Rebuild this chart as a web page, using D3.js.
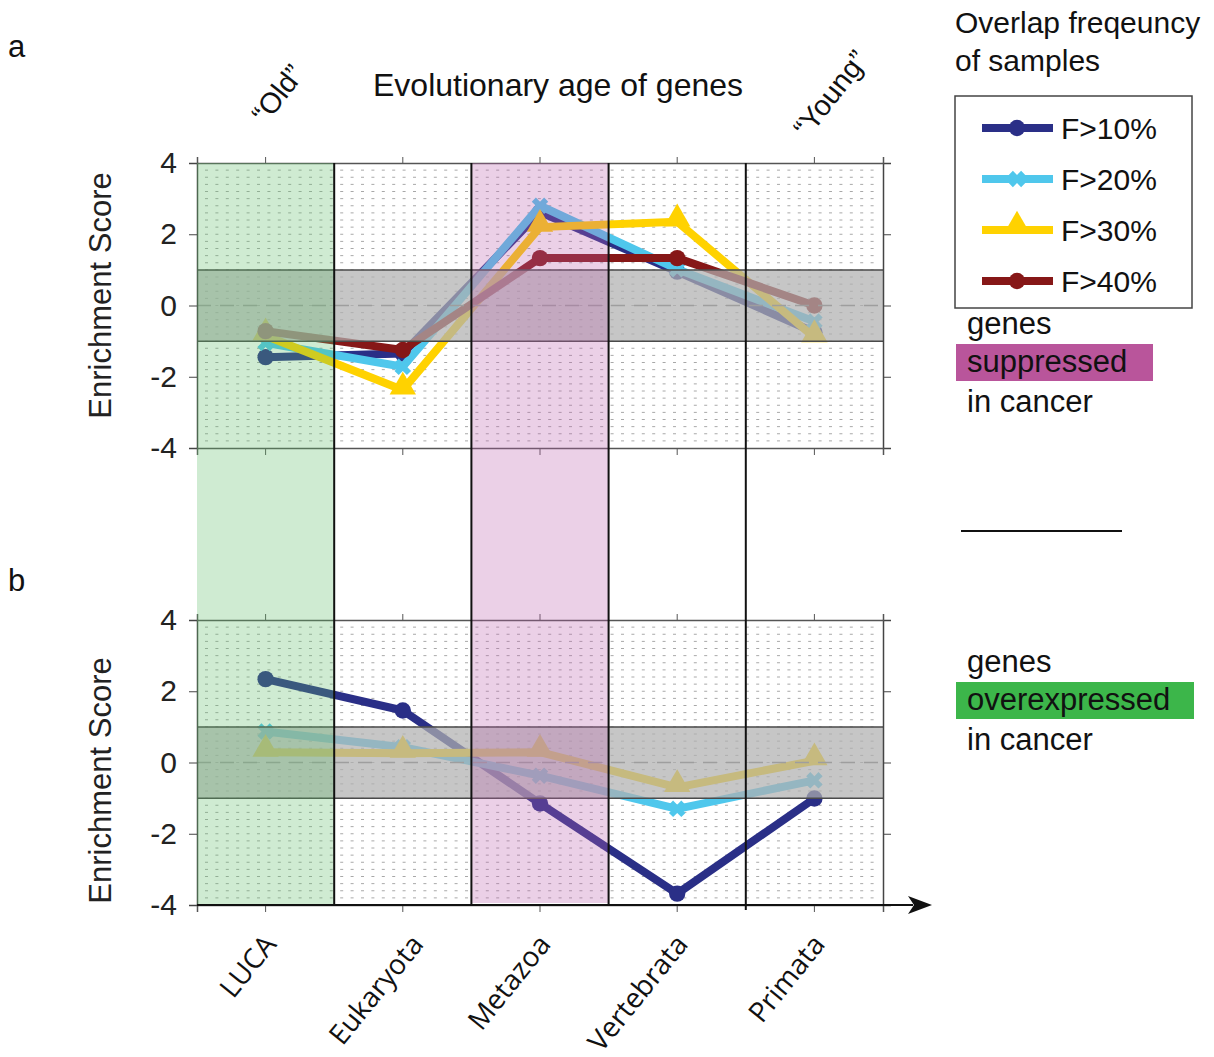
<!DOCTYPE html>
<html>
<head>
  <meta charset="utf-8">
  <title>Enrichment score by evolutionary age</title>
  <script src="https://cdn.jsdelivr.net/npm/d3@7/dist/d3.min.js"></script>
  <style>
    body { margin: 0; background: #fff; }
    svg { display: block; font-family: "Liberation Sans", Arial, sans-serif; }
  </style>
</head>
<body>
  <svg width="1214" height="1057"></svg>

  <script>
    // data
    const categories = ["LUCA", "Eukaryota", "Metazoa", "Vertebrata", "Primata"];
    const seriesNames = ["F>10%", "F>20%", "F>30%", "F>40%"];

    // panel a: genes suppressed in cancer
    const a10 = [-1.45, -1.35, 2.62, 0.95, -0.75];
    const a20 = [-1.05, -1.72, 2.8, 1.02, -0.45];
    const a30 = [-0.85, -2.37, 2.2, 2.35, -0.9];
    const a40 = [-0.72, -1.25, 1.33, 1.33, 0.0];

    // panel b: genes overexpressed in cancer
    const b10 = [2.34, 1.46, -1.15, -3.68, -1.01];
    const b20 = [0.87, 0.43, -0.37, -1.3, -0.5];
    const b30 = [0.29, 0.26, 0.29, -0.7, 0.05];

    const yTicks = [-4, -2, 0, 2, 4];

    const colors = ["#2a2f87", "#4fc7ec", "#ffd200", "#861717"];
    const markers = ["circle", "x", "triangle", "circle"];

    const svg = d3.select("svg");
    const font = "'Liberation Sans', Arial, sans-serif";

    const x = d3.scaleBand().domain(categories).range([197, 883]);
    const cx = c => x(c) + x.bandwidth() / 2;
    const yA = d3.scaleLinear().domain([-4, 4]).range([448, 163]);
    const yB = d3.scaleLinear().domain([-4, 4]).range([905, 620]);

    function markerPath(kind) {
      if (kind === "triangle") return d3.symbol().type(d3.symbolTriangle).size(300)();
      if (kind === "x") return d3.symbol().type(d3.symbolCross).size(170)();
      return d3.symbol().type(d3.symbolCircle).size(210)();
    }

    function drawPanel(y, series, label, labelY, titleShift) {
      const g = svg.append("g");
      const [x0, x1] = x.range();
      const [yb, yt] = y.range();

      // dotted grid
      g.append("g").selectAll("line")
        .data(d3.range(-3.8, 3.9, 0.2))
        .join("line")
        .attr("x1", x0 + 8).attr("x2", x1 - 2)
        .attr("y1", d => y(d)).attr("y2", d => y(d))
        .attr("stroke", "#a8a8a8")
        .attr("stroke-width", 1)
        .attr("stroke-dasharray", "3,7.4");

      // lines + markers
      series.forEach(s => {
        const pts = s.values.map((v, i) => [cx(categories[i]), y(v)]);
        g.append("path")
          .attr("d", d3.line()(pts))
          .attr("fill", "none")
          .attr("stroke", colors[s.k])
          .attr("stroke-width", 8)
          .attr("stroke-linejoin", "round");
        g.append("g").selectAll("path")
          .data(pts)
          .join("path")
          .attr("d", markerPath(markers[s.k]))
          .attr("transform", d => `translate(${d[0]},${d[1] - (markers[s.k] === "triangle" ? 3 : 0)})` + (markers[s.k] === "x" ? " rotate(45)" : ""))
          .attr("fill", colors[s.k]);
      });

      // zero line
      g.append("line")
        .attr("x1", x0).attr("x2", x1)
        .attr("y1", y(0)).attr("y2", y(0))
        .attr("stroke", "#707070")
        .attr("stroke-width", 1.3)
        .attr("stroke-dasharray", "14,9");

      // non-significant band
      g.append("rect")
        .attr("x", x0).attr("width", x1 - x0)
        .attr("y", y(1)).attr("height", y(-1) - y(1))
        .attr("fill", "#b0b0b0")
        .attr("fill-opacity", 0.72);
      [1, -1].forEach(v => g.append("line")
        .attr("x1", x0).attr("x2", x1)
        .attr("y1", y(v)).attr("y2", y(v))
        .attr("stroke", "#4a4a4a").attr("stroke-width", 1.5));

      // axes
      const left = g.append("g").attr("transform", `translate(${x0},0)`);
      left.call(d3.axisLeft(y).tickValues(d3.range(-4, 4.01, 0.2)).tickSize(5).tickFormat(""));
      left.call(d3.axisLeft(y).tickValues(yTicks).tickSize(8).tickPadding(12).tickFormat(d => String(d)));
      left.selectAll("path").attr("stroke", "#444").attr("stroke-width", 1.5);
      left.selectAll("line").attr("stroke", "#444");
      left.selectAll("text")
        .attr("font-family", font).attr("font-size", 30).attr("fill", "#222");

      const right = g.append("g").attr("transform", `translate(${x1},0)`);
      right.call(d3.axisRight(y).tickValues(d3.range(-4, 4.01, 0.2)).tickSize(5).tickFormat(""));
      right.call(d3.axisRight(y).tickValues(yTicks).tickSize(8).tickFormat(""));
      right.selectAll("path").attr("stroke", "#444").attr("stroke-width", 1.5);
      right.selectAll("line").attr("stroke", "#444");

      const top = g.append("g").attr("transform", `translate(0,${yt})`);
      top.call(d3.axisTop(x).tickSize(6).tickFormat(""));
      top.selectAll("path").attr("stroke", "#555").attr("stroke-width", 1.5);
      top.selectAll("line").attr("stroke", "#555");

      const bottom = g.append("g").attr("transform", `translate(0,${yb})`);
      bottom.call(d3.axisBottom(x).tickSize(7).tickFormat(""));
      bottom.selectAll("path").attr("stroke", "#555").attr("stroke-width", 1.5);
      bottom.selectAll("line").attr("stroke", "#555");

      // y label
      svg.append("text")
        .attr("transform", `translate(111,${(yt + yb) / 2 + titleShift}) rotate(-90)`)
        .attr("text-anchor", "middle")
        .attr("font-family", font).attr("font-size", 31).attr("fill", "#222")
        .text("Enrichment Score");

      svg.append("text")
        .attr("x", 8).attr("y", labelY)
        .attr("font-family", font).attr("font-size", 31).attr("fill", "#111")
        .text(label);
      return g;
    }

    drawPanel(yA, [a10, a20, a30, a40].map((v, k) => ({ values: v, k })), "a", 57, -10);
    drawPanel(yB, [b10, b20, b30].map((v, k) => ({ values: v, k })), "b", 591, 18);

    // shaded columns across both panels
    const colTop = yA.range()[1], colBot = yB.range()[0];
    svg.append("rect")
      .attr("x", x("LUCA")).attr("width", x.bandwidth())
      .attr("y", colTop).attr("height", colBot - colTop)
      .attr("fill", "rgb(95,190,105)").attr("fill-opacity", 0.3);
    svg.append("rect")
      .attr("x", x("Metazoa")).attr("width", x.bandwidth())
      .attr("y", colTop).attr("height", colBot - colTop - 2)
      .attr("fill", "rgb(190,100,175)").attr("fill-opacity", 0.3);

    // separators between age groups
    svg.append("g").selectAll("line")
      .data(categories.slice(1))
      .join("line")
      .attr("x1", d => x(d)).attr("x2", d => x(d))
      .attr("y1", colTop).attr("y2", (d, i) => i === 3 ? colBot + 5 : colBot)
      .attr("stroke", "#111").attr("stroke-width", 2);

    // bottom arrow axis
    const xr = x.range();
    svg.append("line")
      .attr("x1", xr[0]).attr("x2", xr[1] + 30)
      .attr("y1", colBot).attr("y2", colBot)
      .attr("stroke", "#111").attr("stroke-width", 2);
    const ax = xr[1] + 49;
    svg.append("path")
      .attr("d", `M${ax},${colBot} L${ax - 24},${colBot - 9} L${ax - 18},${colBot} L${ax - 24},${colBot + 9} Z`)
      .attr("fill", "#111");

    // category labels
    svg.append("g").selectAll("text")
      .data(categories)
      .join("text")
      .attr("transform", (d, i) => `translate(${cx(d) + (i === 1 ? 22 : 12)},${colBot + 40}) rotate(-51)`)
      .attr("text-anchor", "end")
      .attr("font-family", "'Open Sans', 'Noto Sans', sans-serif")
      .attr("font-size", 28).attr("fill", "#111")
      .text(d => d);

    // header
    svg.append("text")
      .attr("x", 558).attr("y", 96)
      .attr("text-anchor", "middle")
      .attr("font-family", font).attr("font-size", 32).attr("fill", "#111")
      .text("Evolutionary age of genes");
    svg.append("text")
      .attr("transform", `translate(${cx("LUCA") + 20},100) rotate(-52)`)
      .attr("text-anchor", "middle")
      .attr("font-family", font).attr("font-size", 29).attr("fill", "#111")
      .text("\u201cOld\u201d");
    svg.append("text")
      .attr("transform", `translate(${cx("Primata") + 24},100) rotate(-52)`)
      .attr("text-anchor", "middle")
      .attr("font-family", font).attr("font-size", 29).attr("fill", "#111")
      .text("\u201cYoung\u201d");

    // legend
    const lg = svg.append("g");
    lg.append("text").attr("x", 955).attr("y", 33)
      .attr("font-family", font).attr("font-size", 30).attr("fill", "#111")
      .text("Overlap freqeuncy");
    lg.append("text").attr("x", 955).attr("y", 71)
      .attr("font-family", font).attr("font-size", 30).attr("fill", "#111")
      .text("of samples");
    lg.append("rect")
      .attr("x", 955).attr("y", 96).attr("width", 237).attr("height", 212)
      .attr("fill", "#fff").attr("stroke", "#444").attr("stroke-width", 1.5);
    seriesNames.forEach((name, k) => {
      const yy = 128 + k * 51;
      lg.append("line").attr("x1", 982).attr("x2", 1053).attr("y1", yy).attr("y2", yy)
        .attr("stroke", colors[k]).attr("stroke-width", 8);
      lg.append("path")
        .attr("d", markerPath(markers[k]))
        .attr("transform", `translate(1017,${yy - (markers[k] === "triangle" ? 4 : 0)})` + (markers[k] === "x" ? " rotate(45)" : ""))
        .attr("fill", colors[k]);
      lg.append("text").attr("x", 1061).attr("y", yy + 11)
        .attr("font-family", font).attr("font-size", 30).attr("fill", "#111")
        .text(name);
    });

    // right-side annotations
    function annot(y0, word, color, w) {
      svg.append("text").attr("x", 967).attr("y", y0)
        .attr("font-family", font).attr("font-size", 31).attr("fill", "#111").text("genes");
      svg.append("rect").attr("x", 956).attr("y", y0 + 10).attr("width", w).attr("height", 37)
        .attr("fill", color);
      svg.append("text").attr("x", 967).attr("y", y0 + 38)
        .attr("font-family", font).attr("font-size", 31).attr("fill", "#111").text(word);
      svg.append("text").attr("x", 967).attr("y", y0 + 78)
        .attr("font-family", font).attr("font-size", 31).attr("fill", "#111").text("in cancer");
    }
    annot(334, "suppressed", "#b9559b", 197);
    annot(672, "overexpressed", "#3cb64a", 238);

    svg.append("line").attr("x1", 961).attr("x2", 1122).attr("y1", 531).attr("y2", 531)
      .attr("stroke", "#111").attr("stroke-width", 2);
  </script>
</body>
</html>
